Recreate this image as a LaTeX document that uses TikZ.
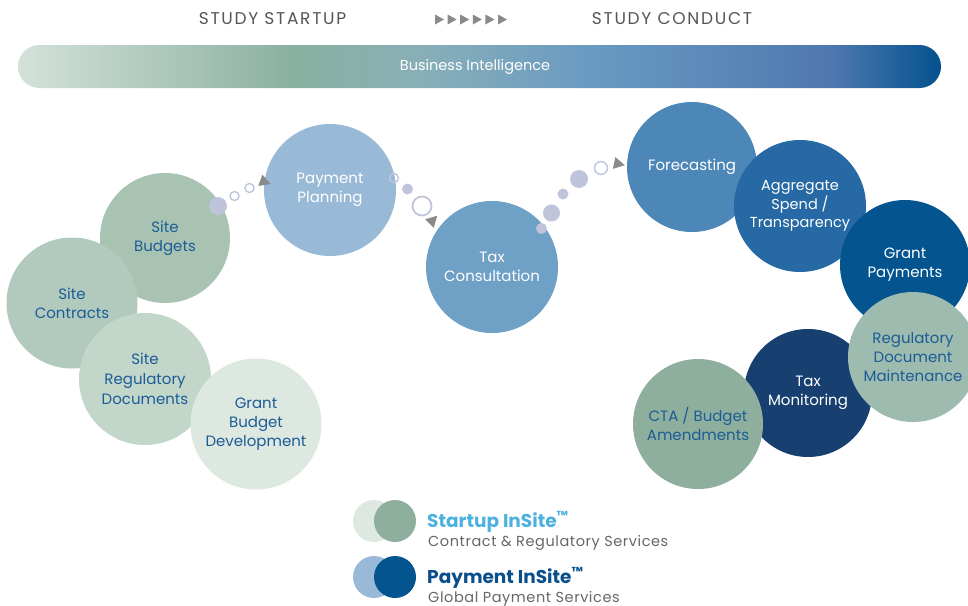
\documentclass[tikz,border=0pt]{standalone}
\usepackage{fontspec}
\setmainfont{Poppins}
\newfontfamily\spacedfont[LetterSpace=10]{Poppins}
\newfontfamily\subfont[LetterSpace=4]{Poppins}
\usetikzlibrary{shapes.geometric}

% palette
\definecolor{cSB}{HTML}{A9C3B3}
\definecolor{cSC}{HTML}{B2CABE}
\definecolor{cSR}{HTML}{C2D6CA}
\definecolor{cGB}{HTML}{DDE8E0}
\definecolor{cPP}{HTML}{99BAD6}
\definecolor{cTC}{HTML}{6FA0C6}
\definecolor{cFC}{HTML}{4C87B8}
\definecolor{cAS}{HTML}{2669A4}
\definecolor{cGP}{HTML}{03548F}
\definecolor{cRM}{HTML}{9DBBAE}
\definecolor{cTM}{HTML}{173F6F}
\definecolor{cCT}{HTML}{8FAF9E}
\definecolor{txtBlue}{HTML}{1C5C96}
\definecolor{dotLav}{HTML}{C0C4DA}
\definecolor{arrowGray}{HTML}{8A8A8A}
\definecolor{headGray}{HTML}{555555}
\definecolor{subGray}{HTML}{666666}
\definecolor{startupBlue}{HTML}{4DB1DF}
\definecolor{paymentBlue}{HTML}{0B4E8C}
\definecolor{biA}{HTML}{D3E1D9}
\definecolor{biB}{HTML}{8AB0A0}
\definecolor{biC}{HTML}{88AFB8}
\definecolor{biD}{HTML}{6799C2}
\definecolor{biE}{HTML}{4F78AE}
\definecolor{biF}{HTML}{03528F}

% gradient of the business intelligence bar (central 25bp..75bp spans the path)
\pgfdeclarehorizontalshading{bishade}{100bp}{%
  color(0bp)=(biA); color(25bp)=(biA); color(40bp)=(biB);
  color(47bp)=(biC); color(56.5bp)=(biD); color(69bp)=(biE);
  color(75bp)=(biF); color(100bp)=(biF)}

\tikzset{
  bub/.style={circle, inner sep=0pt, minimum size=130pt, align=center,
    font=\fontsize{15}{19}\selectfont},
  dotf/.style={circle, inner sep=0pt, fill=dotLav},
  doto/.style={circle, inner sep=0pt, draw=dotLav, line width=1.4pt},
  tip/.style={fill=arrowGray},
  head/.style={text=headGray, font=\fontsize{17}{20}\spacedfont},
  legdot/.style={circle, inner sep=0pt, minimum size=42pt},
}

\begin{document}
\begin{tikzpicture}[x=1pt, y=-1pt]
\useasboundingbox (0,0) rectangle (968,605);

% phase headings
\node[head] (hStart) at (272.5,19) {STUDY STARTUP};
\node[head] (hCond) at (672,19) {STUDY CONDUCT};
\foreach \i in {0,...,5}
  \fill[arrowGray] (435+\i*12.6,14.5) -- (444+\i*12.6,19.5) -- (435+\i*12.6,24.5) -- cycle;

% business intelligence bar
\shade[shading=bishade, rounded corners=21.5pt] (18,45) rectangle (941,88);
\node[text=white, font=\fontsize{14.5}{17}\selectfont] (bi) at (475,67) {Business Intelligence};

% startup group
\node[bub, fill=cSB, text=txtBlue] (sb) at (165,238) {Site\\Budgets};
\node[bub, fill=cSC, text=txtBlue, minimum size=131pt] (sc) at (72,303) {Site\\Contracts};
\node[bub, fill=cSR, text=txtBlue, minimum size=132pt, font=\fontsize{15}{20}\selectfont] (sr) at (145,379) {Site\\Regulatory\\Documents};
\node[bub, fill=cGB, text=txtBlue, minimum size=131pt] (gb) at (256,424) {Grant\\Budget\\Development};

% payment path
\node[bub, fill=cPP, text=white, minimum size=132pt] (pp) at (330,190) {Payment\\Planning};
\node[bub, fill=cTC, text=white, minimum size=132pt] (tc) at (492,267) {Tax\\Consultation};

% conduct group
\node[bub, fill=cFC, text=white] (fc) at (692,167) {Forecasting};
\node[bub, fill=cAS, text=white, minimum size=132pt, font=\fontsize{14.5}{18.5}\selectfont] (as) at (800,206) {Aggregate\\Spend /\\Transparency};
\node[bub, fill=cGP, text=white] (gp) at (905,265) {Grant\\Payments};
\node[bub, fill=cTM, text=white, minimum size=128pt] (tm) at (808,393) {Tax\\Monitoring};
\node[bub, fill=cRM, text=txtBlue] (rm) at (913,357) {Regulatory\\Document\\Maintenance};
\node[bub, fill=cCT, text=txtBlue] (ct) at (698,424) {CTA / Budget\\Amendments};

% dot trail: site budgets -> payment planning
\node[dotf, minimum size=18pt] (a1) at (218,206) {};
\node[doto, minimum size=9pt] (a2) at (234.5,196) {};
\node[doto, minimum size=9pt] (a3) at (249.5,188) {};
\fill[tip, rotate around={-20:(265,182)}] (271,182) -- (260,176) -- (260,188) -- cycle;

% dot trail: payment planning -> tax consultation
\node[doto, minimum size=9pt] (b1) at (394,178) {};
\node[dotf, minimum size=11pt] (b2) at (407.5,189) {};
\node[doto, minimum size=19pt, line width=1.8pt] (b3) at (422,206) {};
\fill[tip, rotate around={45:(433,220)}] (439,220) -- (428,214) -- (428,226) -- cycle;

% dot trail: tax consultation -> forecasting
\node[dotf, minimum size=11pt] (c1) at (541.5,228.5) {};
\node[dotf, minimum size=17pt] (c2) at (551.5,213) {};
\node[dotf, minimum size=11pt] (c3) at (563,194) {};
\node[dotf, minimum size=18pt] (c4) at (579,179) {};
\node[doto, minimum size=13pt] (c5) at (601,168) {};
\fill[tip, rotate around={-12:(619,164)}] (625,164) -- (614,158) -- (614,170) -- cycle;

% legend
\node[legdot, fill=cGB] (l1a) at (374,521) {};
\node[legdot, fill=cCT] (l1b) at (395,521) {};
\node[legdot, fill=cPP] (l2a) at (374,577) {};
\node[legdot, fill=cGP] (l2b) at (395,577) {};
\node[anchor=base west, inner sep=0pt, text=startupBlue,
  font=\fontsize{18.5}{22}\selectfont\bfseries] (s1) at (427,527) {Startup InSite\textsuperscript{™}};
\node[anchor=base west, inner sep=0pt, text=subGray,
  font=\fontsize{14.5}{17}\subfont] (s2) at (428,546) {Contract \& Regulatory Services};
\node[anchor=base west, inner sep=0pt, text=paymentBlue,
  font=\fontsize{18.5}{22}\selectfont\bfseries] (p1) at (427,583) {Payment InSite\textsuperscript{™}};
\node[anchor=base west, inner sep=0pt, text=subGray,
  font=\fontsize{14.5}{17}\subfont] (p2) at (428,602) {Global Payment Services};
\end{tikzpicture}
\end{document}
